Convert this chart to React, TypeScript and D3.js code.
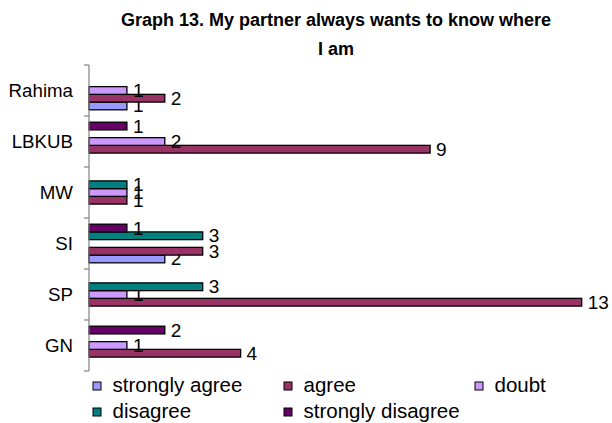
import React from "react";
import * as d3 from "d3";

const categories = ["Rahima", "LBKUB", "MW", "SI", "SP", "GN"];
const seriesNames = ["strongly agree", "agree", "doubt", "disagree", "strongly disagree"];
const stronglyAgree = [1, 0, 0, 2, 0, 0];
const agree = [2, 9, 1, 3, 13, 4];
const doubt = [1, 2, 1, 0, 1, 1];
const disagree = [0, 0, 1, 3, 3, 0];
const stronglyDisagree = [0, 1, 0, 1, 0, 2];
const seriesColors = ["#9999FF", "#993366", "#CC99FF", "#008080", "#660066"];
const titleLines = ["Graph 13. My partner always wants to know where", "I am"];

const seriesValues = [stronglyAgree, agree, doubt, disagree, stronglyDisagree];

const W = 612;
const H = 423;
const FONT = "Arial, 'Liberation Sans', sans-serif";

export default function App() {
  const plotLeft = 89;
  const plotTop = 65;
  const plotBottom = 371;

  const x = d3.scaleLinear().domain([0, 13]).range([plotLeft, 581.7]);
  const y0 = d3.scaleBand<string>().domain(categories).range([plotTop, plotBottom]).paddingInner(0).paddingOuter(0);
  // Excel draws first series at the bottom of each band
  const innerOrder = seriesNames.map((_, i) => i).reverse();
  const y1 = d3
    .scaleBand<number>()
    .domain(innerOrder)
    .range([0, y0.bandwidth()])
    .paddingInner(0)
    .paddingOuter(0.8);

  const tickYs = categories.map((c) => y0(c) as number).concat([plotBottom]);

  const legendItems = seriesNames.map((name, i) => ({
    name,
    color: seriesColors[i],
    col: i % 3,
    row: Math.floor(i / 3),
  }));
  const legendColX = [93, 284, 475];
  const legendRowY = [382, 408];

  return (
    <svg
      width={W}
      height={H}
      style={{ position: "absolute", left: 0, top: 0, background: "#fff" }}
      fontFamily={FONT}
    >
      <rect x={0} y={0} width={W} height={H} fill="#fff" />
      {/* Title */}
      <text x={336} y={26} textAnchor="middle" fontSize={18} fontWeight="bold" fill="#000">
        {titleLines[0]}
      </text>
      <text x={336} y={55} textAnchor="middle" fontSize={18} fontWeight="bold" fill="#000">
        {titleLines[1]}
      </text>

      {/* Bars */}
      {categories.map((cat, ci) => (
        <g key={cat} transform={`translate(0,${y0(cat)})`}>
          {seriesValues.map((vals, si) => {
            const v = vals[ci];
            if (!v) return null;
            const yy = y1(si) as number;
            const bh = y1.bandwidth();
            return (
              <g key={si}>
                <rect
                  x={x(0)}
                  y={yy}
                  width={x(v) - x(0)}
                  height={bh}
                  fill={seriesColors[si]}
                  stroke="#000"
                  strokeWidth={1.3}
                />
                <text x={x(v) + 6} y={yy + bh / 2 + 6.5} fontSize={19} fill="#000">
                  {v}
                </text>
              </g>
            );
          })}
        </g>
      ))}

      {/* Category axis */}
      <line x1={plotLeft} x2={plotLeft} y1={plotTop} y2={plotBottom} stroke="#808080" strokeWidth={1.2} />
      {tickYs.map((ty, i) => (
        <line key={i} x1={plotLeft - 5} x2={plotLeft} y1={ty} y2={ty} stroke="#808080" strokeWidth={1.2} />
      ))}
      {categories.map((cat) => (
        <text
          key={cat}
          x={73}
          y={(y0(cat) as number) + y0.bandwidth() / 2 + 6.5}
          textAnchor="end"
          fontSize={18.7}
          fill="#000"
        >
          {cat}
        </text>
      ))}

      {/* Legend */}
      {legendItems.map((it) => (
        <g key={it.name}>
          <rect
            x={legendColX[it.col]}
            y={legendRowY[it.row]}
            width={8}
            height={8}
            fill={it.color}
            stroke="#000"
            strokeWidth={1}
          />
          <text x={legendColX[it.col] + 19.5} y={legendRowY[it.row] + 9.5} fontSize={20.5} fill="#000">
            {it.name}
          </text>
        </g>
      ))}
    </svg>
  );
}
